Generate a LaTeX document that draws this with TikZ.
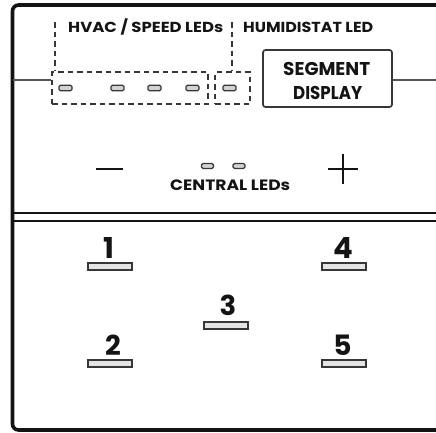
\documentclass[tikz,border=0pt]{standalone}
\usepackage{fontspec}
\setmainfont{Poppins}
\usepackage{graphicx}
\definecolor{ink}{RGB}{20,20,20}
\definecolor{edge}{RGB}{55,55,55}
\definecolor{ledfill}{RGB}{210,210,210}
% width, font size, text
\newcommand{\fitlabel}[3]{\resizebox{#1pt}{\height}{\fontsize{#2pt}{#2pt}\selectfont\bfseries #3}}
\tikzset{
  frame/.style={draw=ink, line width=3.6pt, rounded corners=6pt},
  dashbox/.style={draw=edge, line width=1.7pt, dash pattern=on 5.5pt off 4pt, inner sep=0pt},
  leader/.style={draw=edge, line width=1.7pt, dash pattern=on 5.5pt off 4pt},
  thinline/.style={draw=edge!85, line width=1.5pt},
  ledbox/.style={draw=edge, fill=ledfill, line width=1.3pt, rounded corners=1.5pt, minimum width=13pt, minimum height=5.5pt, inner sep=0pt},
  barbox/.style={draw=edge, fill=ledfill!60, line width=2pt, minimum width=44pt, minimum height=7pt, inner sep=0pt},
  segbox/.style={draw=edge, line width=1.7pt, rounded corners=2.5pt, minimum width=129pt, minimum height=57pt, inner sep=0pt},
  lbl/.style={inner sep=0pt, text=ink},
  sep/.style={draw=ink, line width=2.8pt}
}
\begin{document}
\begin{tikzpicture}[x=1pt,y=-1pt]
\useasboundingbox (0,0) rectangle (436,432);
\clip (0,0) rectangle (436,432);
\fill[white] (0,0) rectangle (436,432);
% outer frame (right side runs off the picture)
\draw[frame] (12.5,5) rectangle (470,430);

% separator
\coordinate (sepL1) at (12.5,213);
\coordinate (sepR1) at (440,213);
\coordinate (sepL2) at (12.5,221);
\coordinate (sepR2) at (440,221);
\draw[sep] (sepL1) -- (sepR1);
\draw[sep] (sepL2) -- (sepR2);

% top LED boxes
\node[dashbox, minimum width=156pt, minimum height=32pt] (hvacbox) at (130,88) {};
\node[dashbox, minimum width=35pt, minimum height=32pt] (humbox) at (232.5,88) {};
\node[segbox] (segbox) at (327.5,78.5) {};

\node[ledbox] (led1) at (65.5,88) {};
\node[ledbox] (led2) at (117.5,88) {};
\node[ledbox] (led3) at (154.5,88) {};
\node[ledbox] (led4) at (192.5,88) {};
\node[ledbox] (led5) at (229.5,88) {};

% labels
\node[lbl, anchor=base west] (hvaclbl) at (68,32) {\fitlabel{155}{14.5}{HVAC / SPEED LEDs}};
\node[lbl, anchor=base west] (humlbl) at (243,32) {\fitlabel{130}{14.5}{HUMIDISTAT LED}};
\node[lbl, anchor=base west] (seg1) at (283,75) {\fitlabel{87}{18.5}{SEGMENT}};
\node[lbl, anchor=base west] (seg2) at (293,99.5) {\fitlabel{69}{18.5}{DISPLAY}};

% leaders
\coordinate (hvtop) at (55,22);
\coordinate (humtop) at (232,22);
\draw[leader] (hvtop) -- (hvtop |- hvacbox.north);
\draw[leader] (humtop) -- (humtop |- humbox.north);

% horizontal line through the LED row
\coordinate (hlL) at (12.5,80);
\coordinate (hlR) at (440,80);
\draw[thinline] (hlL) -- (hlL -| hvacbox.west);
\draw[thinline] (segbox.east |- hlR) -- (hlR);

% minus / plus and central LEDs
\coordinate (minusL) at (96,169);
\coordinate (minusR) at (123,169);
\draw[draw=ink, line width=2.8pt] (minusL) -- (minusR);
\coordinate (plusL) at (328,169);
\coordinate (plusR) at (358,169);
\coordinate (plusT) at (343,154);
\coordinate (plusB) at (343,184);
\draw[draw=ink, line width=1.7pt] (plusL) -- (plusR);
\draw[draw=ink, line width=1.7pt] (plusT) -- (plusB);
\node[ledbox, minimum width=12pt, minimum height=5pt] (cled1) at (207.5,166) {};
\node[ledbox, minimum width=12pt, minimum height=5pt] (cled2) at (239,166) {};
\node[lbl, anchor=base west] (centrallbl) at (170,190) {\fitlabel{120}{15}{CENTRAL LEDs}};

% buttons
\node[lbl, anchor=base] (n1) at (109,258) {\resizebox{!}{21pt}{\bfseries 1}};
\node[barbox] (b1) at (109.5,266.5) {};
\node[lbl, anchor=base] (n4) at (343,258) {\resizebox{!}{21pt}{\bfseries 4}};
\node[barbox] (b4) at (343.5,266.5) {};
\node[lbl, anchor=base] (n3) at (228,315) {\resizebox{!}{20.5pt}{\bfseries 3}};
\node[barbox] (b3) at (226,325) {};
\node[lbl, anchor=base] (n2) at (113,355) {\resizebox{!}{20.5pt}{\bfseries 2}};
\node[barbox] (b2) at (109.5,363) {};
\node[lbl, anchor=base] (n5) at (342.5,355) {\resizebox{!}{20.5pt}{\bfseries 5}};
\node[barbox] (b5) at (343.5,363) {};
\end{tikzpicture}
\end{document}
